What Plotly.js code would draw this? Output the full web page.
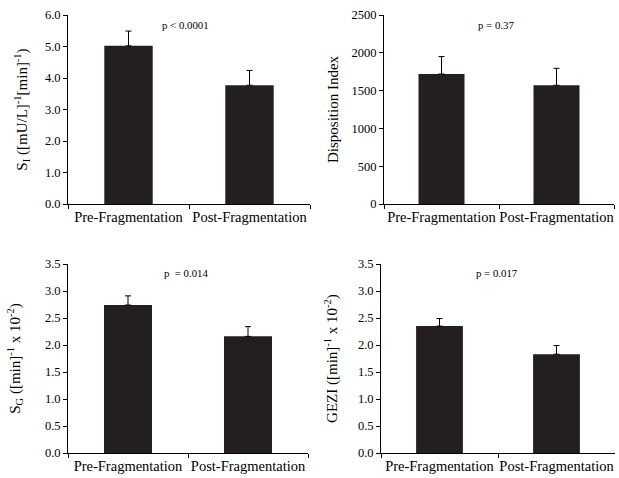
<!DOCTYPE html>
<html>
<head>
<meta charset="utf-8">
<script src="https://cdn.plot.ly/plotly-3.0.1.min.js"></script>
<style>html,body{margin:0;padding:0;background:#fff}#chart{width:619px;height:478px}</style>
</head>
<body>
<div id="chart"></div>
<script>
const categories = ['Pre-Fragmentation', 'Post-Fragmentation'];
const siValues = [5.02, 3.77];
const siErrors = [0.47, 0.47];
const diValues = [1720, 1570];
const diErrors = [230, 225];
const sgValues = [2.74, 2.16];
const sgErrors = [0.17, 0.18];
const geziValues = [2.35, 1.83];
const geziErrors = [0.14, 0.16];
const pLabels = ['p < 0.0001', 'p = 0.37', 'p  = 0.014', 'p = 0.017'];

const W = 619, H = 478;
const px = v => v / W;
const py = v => 1 - v / H;
const barColor = '#231f20';
const font = '"Liberation Serif", "Times New Roman", serif';

function barTrace(vals, errs, xa, ya) {
  return {
    type: 'bar', x: categories, y: vals, xaxis: xa, yaxis: ya,
    width: 0.4,
    marker: {color: barColor, line: {width: 0}},
    error_y: {type: 'data', array: errs, arrayminus: [0, 0], symmetric: false,
              color: '#000', thickness: 1, width: 3},
    showlegend: false, hoverinfo: 'x+y'
  };
}

const data = [
  barTrace(siValues, siErrors, 'x', 'y'),
  barTrace(diValues, diErrors, 'x2', 'y2'),
  barTrace(sgValues, sgErrors, 'x3', 'y3'),
  barTrace(geziValues, geziErrors, 'x4', 'y4')
];

function xAxis(d0, d1, anchor) {
  return {
    domain: [px(d0), px(d1)], anchor: anchor, type: 'category',
    range: [-0.5, 1.5], tickson: 'boundaries', ticks: 'outside', ticklen: 4,
    tickangle: 0, automargin: false,
    tickcolor: '#000', showline: true, linecolor: '#000', linewidth: 1,
    showgrid: false, zeroline: false,
    tickfont: {family: font, size: 14.5, color: '#000'}, fixedrange: true
  };
}
function yAxis(d0, d1, anchor, range, dtick, fmt, title, standoff) {
  return {
    domain: [py(d1), py(d0)], anchor: anchor, range: range, dtick: dtick,
    tickformat: fmt, ticks: 'outside', ticklen: 4, tickcolor: '#000',
    showline: true, linecolor: '#000', linewidth: 1, showgrid: false, zeroline: false,
    tickfont: {family: font, size: 12.5, color: '#000'},
    title: {text: title, font: {family: font, size: 15, color: '#000'}, standoff: standoff},
    fixedrange: true
  };
}

const layout = {
  width: W, height: H,
  margin: {l: 0, r: 0, t: 0, b: 0},
  paper_bgcolor: '#fff', plot_bgcolor: '#fff',
  font: {family: font, color: '#000'},
  xaxis: xAxis(68, 310, 'y'),
  yaxis: yAxis(15, 204, 'x', [0, 6], 1, '.1f', 'S<sub>I</sub> ([mU/L]<sup>-1</sup>[min]<sup>-1</sup>)', 13),
  xaxis2: xAxis(384, 614, 'y2'),
  yaxis2: yAxis(15, 204, 'x2', [0, 2500], 500, 'd', 'Disposition Index', 9),
  xaxis3: xAxis(68, 308, 'y3'),
  yaxis3: yAxis(264, 453, 'x3', [0, 3.5], 0.5, '.1f', 'S<sub>G</sub> ([min]<sup>-1</sup> x 10<sup>-2</sup>)', 20),
  xaxis4: xAxis(381, 615, 'y4'),
  yaxis4: yAxis(264, 453, 'x4', [0, 3.5], 0.5, '.1f', 'GEZI ([min]<sup>-1</sup> x 10<sup>-2</sup>)', 16),
  annotations: [
    {text: pLabels[0], x: px(185), y: py(25)},
    {text: pLabels[1], x: px(496), y: py(25)},
    {text: pLabels[2], x: px(186), y: py(273)},
    {text: pLabels[3], x: px(497), y: py(273)}
  ].map(a => Object.assign(a, {xref: 'paper', yref: 'paper', showarrow: false,
      xanchor: 'center', yanchor: 'middle', font: {family: font, size: 10.8, color: '#000'}}))
};

Plotly.newPlot('chart', data, layout, {displayModeBar: false, staticPlot: true});
</script>
</body>
</html>
